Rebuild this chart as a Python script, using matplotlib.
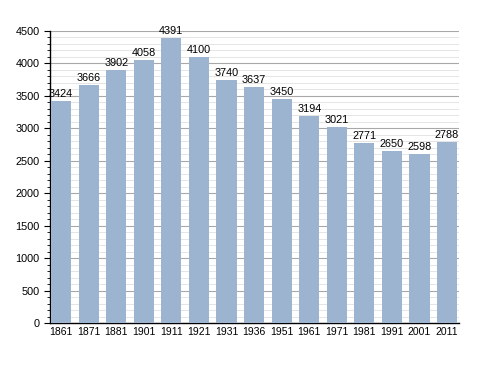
import matplotlib
matplotlib.use("Agg")
import matplotlib.pyplot as plt
from matplotlib.ticker import MultipleLocator

plt.rcParams["font.family"] = ["Liberation Sans", "DejaVu Sans"]

years = ["1861", "1871", "1881", "1901", "1911", "1921", "1931", "1936",
         "1951", "1961", "1971", "1981", "1991", "2001", "2011"]
population = [3424, 3666, 3902, 4058, 4391, 4100, 3740, 3637,
              3450, 3194, 3021, 2771, 2650, 2598, 2788]

fig = plt.figure(figsize=(4.88, 3.73), dpi=100)
ax = fig.add_axes([0.1025, 0.134, 0.838, 0.783])

x = range(len(years))
ax.bar(x, population, width=0.73, color="#9db4d0", zorder=3)
for xi, v in zip(x, population):
    ax.text(xi, v + 30, str(v), ha="center", va="bottom", fontsize=7.8, zorder=4)

ax.set_xlim(-0.4, 14.43)
ax.set_ylim(0, 4500)
ax.set_xticks(list(x))
ax.set_xticklabels(years, fontsize=7.5)
ax.yaxis.set_major_locator(MultipleLocator(500))
ax.yaxis.set_minor_locator(MultipleLocator(100))
ax.tick_params(axis="y", labelsize=7.8, direction="out", length=4)
ax.tick_params(axis="y", which="minor", length=2)
ax.tick_params(axis="x", length=0, pad=3)
ax.grid(axis="y", which="major", color="#a8a8a8", linewidth=0.8, zorder=0)
ax.grid(axis="y", which="minor", color="#e0e0e0", linewidth=0.6, zorder=0)
for s in ["top", "right"]:
    ax.spines[s].set_visible(False)
ax.spines["left"].set_linewidth(1.0)
ax.spines["bottom"].set_linewidth(1.0)

fig.savefig("out.png", dpi=100)
